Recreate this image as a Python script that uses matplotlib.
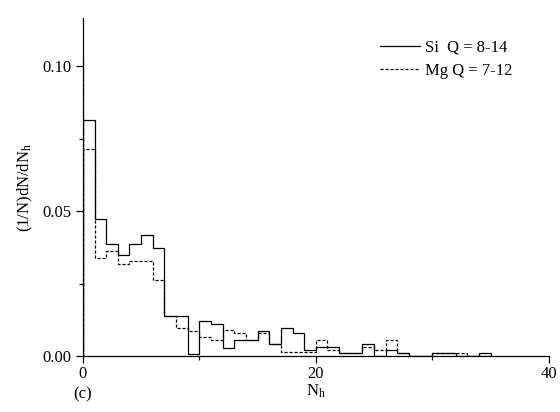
import matplotlib
matplotlib.use("Agg")
import matplotlib.pyplot as plt
import numpy as np

plt.rcParams['font.family'] = ['Liberation Serif', 'DejaVu Serif']
plt.rcParams['mathtext.fontset'] = 'stix'

# bin edges: unit bins starting at Nh = 0
edges = np.arange(0, 36)

si_values = [0.0814, 0.0471, 0.0385, 0.0349, 0.0385, 0.0417, 0.0374, 0.0139,
             0.0139, 0.0008, 0.0119, 0.0109, 0.0029, 0.0055, 0.0055, 0.0086,
             0.0043, 0.0098, 0.0078, 0.0021, 0.0032, 0.0032, 0.0009, 0.0009,
             0.0043, 0.0, 0.0021, 0.0011, 0.0, 0.0, 0.0011, 0.0011,
             0.0, 0.0, 0.0011]
mg_values = [0.0715, 0.0339, 0.0362, 0.0316, 0.0329, 0.0329, 0.0262, 0.0139,
             0.0098, 0.0086, 0.0067, 0.0055, 0.0090, 0.0078, 0.0055, 0.0078,
             0.0043, 0.0012, 0.0012, 0.0012, 0.0055, 0.0021, 0.0009, 0.0009,
             0.0032, 0.0021, 0.0055, 0.0011, 0.0, 0.0, 0.0011, 0.0011,
             0.0011, 0.0, 0.0]
mg_start = 0.102

si_label = "Si  Q = 8-14"
mg_label = "Mg Q = 7-12"

fig = plt.figure(figsize=(5.6, 4.12), dpi=100)
ax = fig.add_axes([0.148, 0.136, 0.832, 0.820])

ax.stairs(si_values, edges, baseline=0, color='black', lw=0.9, label=si_label)
ax.stairs(mg_values, edges, baseline=0, color='black', lw=0.9,
          linestyle=(0, (2.5, 1.5)), label=mg_label)
ax.vlines(0, 0, mg_start, color='black', lw=0.9, linestyle=(0, (2.5, 1.5)))

ax.set_xlim(0, 40)
ax.set_ylim(0, 0.1166)
ax.set_xticks([0, 20, 40])
ax.set_xticks([10, 30], minor=True)
ax.set_yticks([0.0, 0.05, 0.10])
ax.set_yticks([0.025, 0.075], minor=True)
ax.set_yticklabels(["0.00", "0.05", "0.10"])
for s in ['top', 'right']:
    ax.spines[s].set_visible(False)
for s in ['left', 'bottom']:
    ax.spines[s].set_linewidth(0.9)
ax.tick_params(which='major', direction='out', length=5, width=0.9, labelsize=12)
ax.tick_params(which='minor', direction='out', length=3, width=0.9)
ax.tick_params(axis='x', which='major', pad=2)

ax.set_ylabel("(1/N)dN/dN$_\\mathregular{h}$", fontsize=12, labelpad=5)
ax.set_xlabel("N$_\\mathregular{h}$", fontsize=12, labelpad=1)
ax.text(0, -0.0105, "(c)", fontsize=12, ha='center', va='top')

leg = ax.legend(loc='upper left', bbox_to_anchor=(0.606, 0.98), frameon=False,
                fontsize=12, handlelength=2.4, handletextpad=0.3,
                labelspacing=0.4)

fig.savefig("out.png", dpi=100)
